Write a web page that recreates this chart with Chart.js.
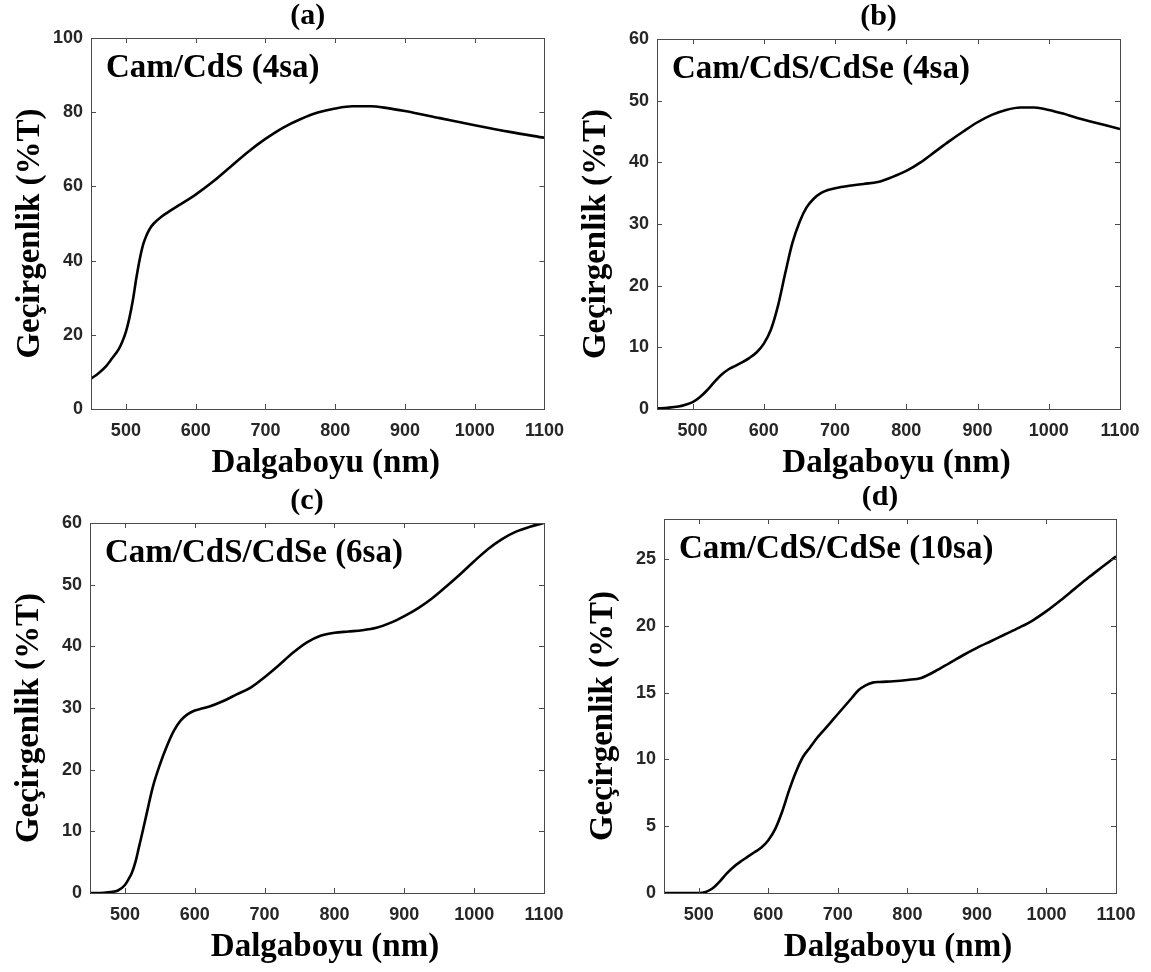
<!DOCTYPE html>
<html>
<head>
<meta charset="utf-8">
<script src="https://cdn.jsdelivr.net/npm/chart.js@4/dist/chart.umd.min.js"></script>
<style>
  html, body { margin: 0; padding: 0; background: #ffffff; width: 1151px; height: 972px; overflow: hidden; }
  canvas { position: absolute; }
</style>
</head>
<body>
<canvas id="pa"></canvas>
<canvas id="pb"></canvas>
<canvas id="pc"></canvas>
<canvas id="pd"></canvas>
<script>
// Wavelength tick labels shared by all four panels (nm)
const xTicks = [500, 600, 700, 800, 900, 1000, 1100];

// (a) Cam/CdS (4sa)
const wlA = [450, 460, 470, 480, 490, 495, 500, 505, 510, 515, 520, 525, 530, 535, 540, 550, 560, 575, 600, 625, 650, 675, 700, 725, 750, 775, 800, 825, 850, 875, 900, 950, 1000, 1050, 1100];
const tA  = [8.2, 9.5, 11.2, 13.6, 16.2, 18.2, 20.8, 24.5, 29.3, 35.3, 40.5, 44.5, 47.0, 48.8, 50.0, 51.7, 53.0, 54.8, 57.8, 61.3, 65.3, 69.3, 72.8, 75.8, 78.1, 79.9, 81.0, 81.6, 81.6, 81.1, 80.3, 78.4, 76.5, 74.7, 73.1];
const yTicksA = [0, 20, 40, 60, 80, 100];

// (b) Cam/CdS/CdSe (4sa)
const wlB = [450, 465, 480, 490, 500, 510, 520, 530, 540, 550, 560, 570, 580, 590, 600, 610, 620, 630, 640, 650, 660, 670, 680, 690, 700, 720, 740, 760, 780, 800, 820, 840, 860, 880, 900, 920, 940, 960, 980, 1000, 1020, 1040, 1060, 1080, 1100];
const tB  = [0.1, 0.2, 0.4, 0.7, 1.1, 1.9, 3.0, 4.3, 5.5, 6.4, 7.0, 7.6, 8.3, 9.2, 10.6, 12.9, 16.8, 22.0, 26.9, 30.3, 32.7, 34.1, 35.0, 35.5, 35.8, 36.2, 36.5, 36.8, 37.6, 38.6, 40.0, 41.7, 43.4, 45.0, 46.5, 47.7, 48.5, 48.9, 48.9, 48.5, 47.9, 47.2, 46.6, 46.0, 45.4];
const yTicksB = [0, 10, 20, 30, 40, 50, 60];

// (c) Cam/CdS/CdSe (6sa)
const wlC = [450, 470, 480, 490, 500, 505, 510, 515, 520, 525, 530, 540, 550, 560, 570, 580, 590, 600, 610, 620, 640, 660, 680, 700, 720, 740, 760, 780, 800, 820, 840, 860, 880, 900, 920, 940, 960, 980, 1000, 1020, 1040, 1060, 1080, 1100];
const tC  = [0, 0.05, 0.15, 0.4, 1.3, 2.2, 3.3, 5.0, 7.4, 9.8, 12.3, 17.2, 20.8, 23.8, 26.3, 28.0, 29.0, 29.6, 29.9, 30.2, 31.1, 32.2, 33.3, 35.0, 36.9, 38.9, 40.6, 41.7, 42.2, 42.4, 42.6, 43.0, 43.8, 44.9, 46.2, 47.8, 49.7, 51.7, 53.8, 55.8, 57.4, 58.6, 59.4, 60.0];
const yTicksC = [0, 10, 20, 30, 40, 50, 60];

// (d) Cam/CdS/CdSe (10sa)
const wlD = [450, 480, 500, 510, 520, 530, 540, 550, 560, 570, 580, 590, 600, 610, 620, 630, 640, 650, 660, 670, 680, 690, 700, 710, 720, 730, 740, 750, 760, 780, 800, 820, 840, 860, 880, 900, 920, 940, 960, 980, 1000, 1020, 1040, 1060, 1080, 1100];
const tD  = [0, 0, 0, 0.08, 0.35, 0.85, 1.45, 1.95, 2.35, 2.7, 3.05, 3.4, 3.95, 4.8, 6.1, 7.7, 9.1, 10.2, 10.9, 11.6, 12.2, 12.8, 13.4, 14.0, 14.6, 15.2, 15.55, 15.75, 15.8, 15.85, 15.95, 16.1, 16.6, 17.2, 17.8, 18.35, 18.85, 19.35, 19.85, 20.4, 21.1, 21.9, 22.75, 23.6, 24.4, 25.2];
const yTicksD = [0, 5, 10, 15, 20, 25];

const xTitle = 'Dalgaboyu (nm)';
const yTitle = 'Geçirgenlik (%T)';

// Canvas frame [x, y, w, h] and plot box [left, top, right, bottom], page pixels
const panels = [
  { id: 'pa', frame: [0, 0, 575, 486],   box: [91, 38, 548, 409],  title: '(a)', inset: 'Cam/CdS (4sa)',        wl: wlA, t: tA, yMax: 100, yTicks: yTicksA },
  { id: 'pb', frame: [575, 0, 576, 486], box: [657, 39, 1120, 409], title: '(b)', inset: 'Cam/CdS/CdSe (4sa)',  wl: wlB, t: tB, yMax: 60,  yTicks: yTicksB },
  { id: 'pc', frame: [0, 486, 575, 486], box: [90, 523, 544, 893],  title: '(c)', inset: 'Cam/CdS/CdSe (6sa)',  wl: wlC, t: tC, yMax: 60,  yTicks: yTicksC },
  { id: 'pd', frame: [575, 486, 576, 486], box: [664, 519, 1116, 893], title: '(d)', inset: 'Cam/CdS/CdSe (10sa)', wl: wlD, t: tD, yMax: 28,  yTicks: yTicksD }
];

const AXIS_COLOR = '#4a4a4a';
const TICK_TEXT = '#262626';
const SERIF = '"Liberation Serif", "Times New Roman", serif';
const SANS = '"Liberation Sans", Arial, sans-serif';

// Box frame, inward tick marks on all four sides, title, axis titles and the sample label
const panelDecor = {
  id: 'panelDecor',
  afterDraw(chart, args, opts) {
    const ctx = chart.ctx;
    const a = chart.chartArea;
    const xs = chart.scales.x, ys = chart.scales.y;
    ctx.save();
    ctx.strokeStyle = AXIS_COLOR;
    ctx.lineWidth = 1;
    ctx.strokeRect(Math.round(a.left) + 0.5, Math.round(a.top) + 0.5,
                   Math.round(a.right - a.left), Math.round(a.bottom - a.top));
    const tl = 5;
    ctx.beginPath();
    xs.ticks.forEach(tk => {
      const px = Math.round(xs.getPixelForValue(tk.value)) + 0.5;
      ctx.moveTo(px, a.bottom); ctx.lineTo(px, a.bottom - tl);
      ctx.moveTo(px, a.top);    ctx.lineTo(px, a.top + tl);
    });
    ys.ticks.forEach(tk => {
      const py = Math.round(ys.getPixelForValue(tk.value)) + 0.5;
      ctx.moveTo(a.left, py);  ctx.lineTo(a.left + tl, py);
      ctx.moveTo(a.right, py); ctx.lineTo(a.right - tl, py);
    });
    ctx.stroke();

    const cx = (a.left + a.right) / 2;
    const cy = (a.top + a.bottom) / 2;
    ctx.fillStyle = '#000000';
    ctx.textAlign = 'center';
    ctx.textBaseline = 'alphabetic';

    ctx.font = 'bold 30px ' + SERIF;
    ctx.fillText(opts.title, cx - 10, a.top - 14);

    ctx.font = 'bold 33px ' + SERIF;
    ctx.fillText(xTitle, cx + 8, a.bottom + 63);

    ctx.save();
    ctx.translate(a.left - 52, cy + 10);
    ctx.rotate(-Math.PI / 2);
    ctx.fillText(yTitle, 0, 0);
    ctx.restore();

    ctx.textAlign = 'left';
    ctx.fillText(opts.inset, a.left + 15, a.top + 39);
    ctx.restore();
  }
};

const plainLabel = v => String(v);

panels.forEach(p => {
  const cv = document.getElementById(p.id);
  const [fx, fy, fw, fh] = p.frame;
  const [bl, bt, br, bb] = p.box;
  cv.width = fw; cv.height = fh;
  cv.style.left = fx + 'px'; cv.style.top = fy + 'px';
  cv.style.width = fw + 'px'; cv.style.height = fh + 'px';

  const yAxisW = bl - fx;
  const xAxisH = fy + fh - bb;

  new Chart(cv, {
    type: 'line',
    data: {
      datasets: [{
        data: p.wl.map((w, i) => ({ x: w, y: p.t[i] })),
        borderColor: '#000000',
        borderWidth: 2.6,
        pointRadius: 0,
        cubicInterpolationMode: 'monotone',
        fill: false
      }]
    },
    options: {
      responsive: false,
      animation: false,
      devicePixelRatio: 1,
      layout: { padding: { top: bt - fy, right: fx + fw - br, left: 0, bottom: 0 } },
      plugins: {
        legend: { display: false },
        tooltip: { enabled: false },
        title: { display: false },
        panelDecor: { title: p.title, inset: p.inset }
      },
      scales: {
        x: {
          type: 'linear',
          min: 450, max: 1100,
          afterBuildTicks: s => { s.ticks = xTicks.map(v => ({ value: v })); },
          afterFit: s => { s.height = xAxisH; },
          grid: { display: false, drawTicks: false },
          border: { display: false },
          ticks: { padding: 11, color: TICK_TEXT, font: { family: SANS, size: 18, weight: 'bold' }, maxRotation: 0, autoSkip: false, callback: plainLabel }
        },
        y: {
          type: 'linear',
          min: 0, max: p.yMax,
          afterBuildTicks: s => { s.ticks = p.yTicks.map(v => ({ value: v })); },
          afterFit: s => { s.width = yAxisW; },
          grid: { display: false, drawTicks: false },
          border: { display: false },
          ticks: { padding: 8, color: TICK_TEXT, font: { family: SANS, size: 18, weight: 'bold' }, autoSkip: false, callback: plainLabel }
        }
      }
    },
    plugins: [panelDecor]
  });
});
</script>
</body>
</html>
